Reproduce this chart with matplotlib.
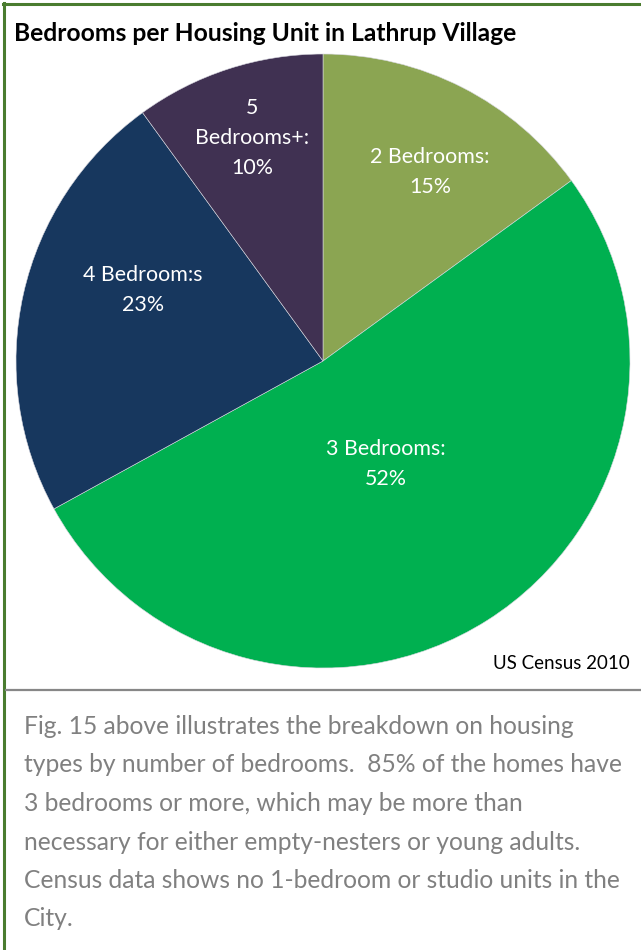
import matplotlib
matplotlib.use("Agg")
import matplotlib.pyplot as plt
from matplotlib.lines import Line2D

# ---- data ----
categories = ["2 Bedrooms:", "3 Bedrooms:", "4 Bedroom:s", "5\nBedrooms+:"]
shares = [15, 52, 23, 10]
colors = ["#8BA552", "#00B050", "#17375E", "#403152"]
title = "Bedrooms per Housing Unit in Lathrup Village"
source = "US Census 2010"
body_lines = [
    "Fig. 15 above illustrates the breakdown on housing",
    "types by number of bedrooms.  85% of the homes have",
    "3 bedrooms or more, which may be more than",
    "necessary for either empty-nesters or young adults.",
    "Census data shows no 1-bedroom or studio units in the",
    "City.",
]

W, H = 641, 950
FONT = "Lato"
fig = plt.figure(figsize=(W / 100, H / 100), dpi=100)
fig.patch.set_facecolor("white")


def fx(x):
    return x / W


def fy(y):
    return 1 - y / H


# pie axes: center (323, 361), radius 307 px
cx, cy, r = 323, 361, 307
ax = fig.add_axes([fx(cx - r), fy(cy + r), 2 * r / W, 2 * r / H])
wedges, _ = ax.pie(shares, colors=colors, startangle=90, counterclock=False,
                   radius=1, wedgeprops=dict(edgecolor="#d8d8e0", linewidth=0.4))
ax.set_xlim(-1, 1)
ax.set_ylim(-1, 1)
ax.set_aspect("auto")
ax.axis("off")

# label positions (pixel centers in the figure)
label_pos = [(430, 172), (386, 464), (143, 290), (252, 138)]
for cat, val, (lx, ly) in zip(categories, shares, label_pos):
    fig.text(fx(lx), fy(ly), f"{cat}\n{val}%", ha="center", va="center",
             color="white", fontsize=15.4, family=FONT, linespacing=1.62)

# title
fig.text(fx(14), fy(41), title, ha="left", va="baseline", fontsize=17.7,
         fontweight="bold", family=FONT, color="black")

# source
fig.text(fx(630), fy(669), source, ha="right", va="baseline", fontsize=13.5,
         family=FONT, color="black")

# borders
fig.add_artist(Line2D([fx(3), fx(641)], [fy(4), fy(4)], color="#4A7C2F",
                      linewidth=2.2, transform=fig.transFigure))
fig.add_artist(Line2D([fx(4), fx(4)], [fy(3), fy(950)], color="#4A7C2F",
                      linewidth=2.2, transform=fig.transFigure))
fig.add_artist(Line2D([fx(6), fx(641)], [fy(689.5), fy(689.5)], color="#878787",
                      linewidth=1.6, transform=fig.transFigure))

# body text
for i, line in enumerate(body_lines):
    fig.text(fx(24), fy(734 + i * 38.5), line, ha="left", va="baseline",
             fontsize=17.7, family=FONT, color="#808080")

fig.savefig("out.png", dpi=100, facecolor="white")
